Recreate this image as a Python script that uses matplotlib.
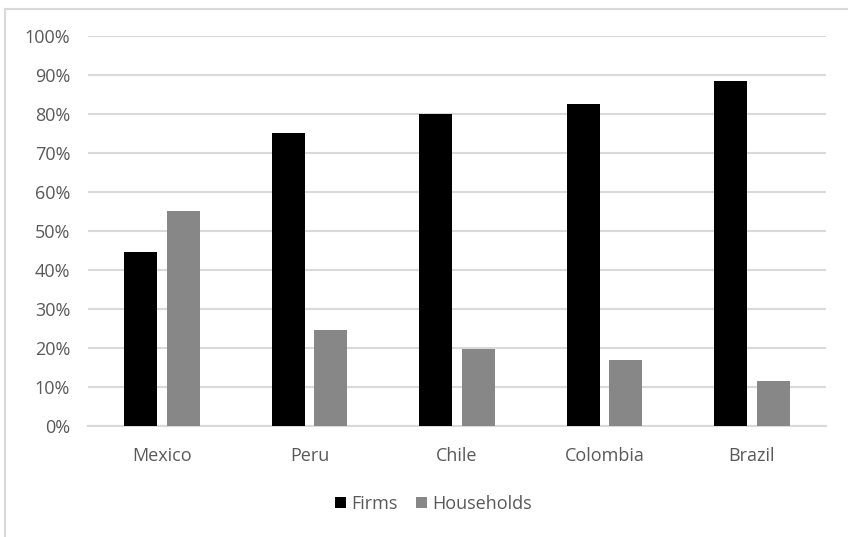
"""Firms vs households shares by country, Excel-style grouped bars."""

import matplotlib.pyplot as plt
import numpy as np
from matplotlib.lines import Line2D
from matplotlib.ticker import PercentFormatter

COUNTRIES = ["Mexico", "Peru", "Chile", "Colombia", "Brazil"]
FIRMS = [44.6, 75.2, 80.0, 82.5, 88.5]
HOUSEHOLDS = [55.2, 24.7, 19.8, 16.9, 11.5]
Y_TICKS = list(range(0, 101, 10))

TEXT_GREY = "#595959"
GRID_GREY = "#d9d9d9"
FIRMS_COLOR = "#000000"
HOUSEHOLDS_COLOR = "#878787"

plt.rcParams["font.family"] = ["Open Sans", "DejaVu Sans"]

fig = plt.figure(figsize=(8.48, 5.37), dpi=100)
ax = fig.add_axes([0.1041, 0.2067, 0.8696, 0.7263])

x = np.arange(len(COUNTRIES))
width = 0.224
offset = (width + 0.066) / 2

ax.bar(x - offset, FIRMS, width, color=FIRMS_COLOR, label="Firms", zorder=3)
ax.bar(x + offset, HOUSEHOLDS, width, color=HOUSEHOLDS_COLOR, label="Households", zorder=3)

ax.set_xlim(-0.5, len(COUNTRIES) - 0.5)
ax.set_ylim(0, 100)
ax.set_yticks(Y_TICKS)
ax.yaxis.set_major_formatter(PercentFormatter(decimals=0))
ax.set_xticks(x)
ax.set_xticklabels(COUNTRIES)

ax.grid(axis="y", color=GRID_GREY, linewidth=1.5, zorder=0)
for side in ["top", "right", "left"]:
    ax.spines[side].set_visible(False)
ax.spines["bottom"].set_color(GRID_GREY)
ax.spines["bottom"].set_linewidth(1.5)
ax.tick_params(axis="both", length=0, labelsize=13, labelcolor=TEXT_GREY)
ax.tick_params(axis="x", pad=15)
ax.tick_params(axis="y", pad=13)

ax.legend(
    loc="center",
    bbox_to_anchor=(0.511, 0.062),
    bbox_transform=fig.transFigure,
    ncol=2,
    frameon=False,
    fontsize=13,
    labelcolor=TEXT_GREY,
    handlelength=0.6,
    handleheight=0.6,
    handletextpad=0.3,
    columnspacing=1.0,
)

# chart frame, only the top and left edges are visible in the crop
fig.add_artist(Line2D([5 / 848, 1], [1 - 9 / 537] * 2, color=GRID_GREY, linewidth=1.5))
fig.add_artist(Line2D([5 / 848] * 2, [0, 1 - 9 / 537], color=GRID_GREY, linewidth=1.5))

fig.savefig("out.png", dpi=100)
